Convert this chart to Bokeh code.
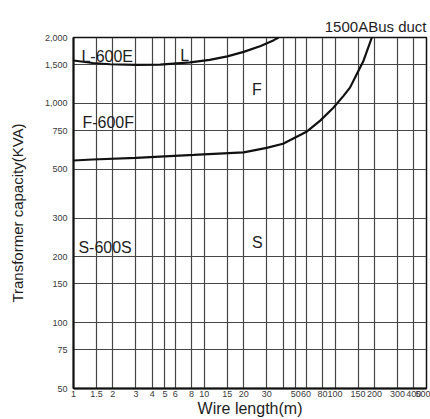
from bokeh.plotting import figure
from bokeh.models import FixedTicker, CustomJSTickFormatter, Label
from bokeh.embed import file_html
from bokeh.resources import INLINE

# ---- data ----
x_ticks = [1, 1.5, 2, 3, 4, 5, 6, 8, 10, 15, 20, 30, 40, 50, 60, 80, 100, 150, 200, 300, 400, 500]
x_tick_labels = ["1", "1.5", "2", "3", "4", "5", "6", "8", "10", "15", "20", "30", "", "50", "60",
                 "80", "100", "150", "200", "300", "400", "500"]
y_ticks = [50, 75, 100, 150, 200, 300, 500, 750, 1000, 1500, 2000]
y_tick_labels = ["50", "75", "100", "150", "200", "300", "500", "750", "1,000", "1,500", "2,000"]

# L-600E boundary curve (wire length m, capacity kVA)
L_len = [1, 1.4, 1.9, 3, 4.6, 7.8, 11, 15, 20, 27, 34, 37]
L_kva = [1570, 1530, 1510, 1500, 1505, 1540, 1580, 1640, 1720, 1830, 1945, 2000]

# F-600F boundary curve
F_len = [1, 1.4, 3, 8.3, 20, 30, 40, 61, 77, 97, 116, 130, 146, 164, 191]
F_kva = [549, 555, 565, 582, 598, 627, 655, 745, 835, 955, 1083, 1181, 1356, 1554, 2000]

# region labels: text, x, y
region_text = ["L-600E", "L", "F", "F-600F", "S-600S", "S"]
region_x = [1.15, 6.56, 23.2, 1.17, 1.09, 23.2]
region_y = [1636, 1650, 1157, 822, 221, 233]

title_text = "1500ABus duct"
x_title = "Wire length(m)"
y_title = "Transformer capacity(KVA)"

FONT = "Liberation Sans"
TXT = "#1e1e1e"

p = figure(width=430, height=419, x_axis_type="log", y_axis_type="log",
           x_range=(1, 500), y_range=(50, 2000),
           output_backend="svg", toolbar_location=None,
           min_border_left=73, min_border_right=4, min_border_top=37, min_border_bottom=29,
           x_axis_label=x_title, y_axis_label=y_title, title=title_text)

p.background_fill_color = "white"
p.border_fill_color = "white"
p.outline_line_color = "#111111"
p.outline_line_width = 1.5

p.title.align = "right"
p.title.text_font = FONT
p.title.text_font_size = "15px"
p.title.text_font_style = "normal"
p.title.text_color = TXT
p.title.standoff = 6

p.xaxis.ticker = FixedTicker(ticks=x_ticks)
p.yaxis.ticker = FixedTicker(ticks=y_ticks)
fmt_code = """
const i = vals.findIndex(t => Math.abs(t - tick) < 1e-6 * Math.max(1, t));
return i < 0 ? "" : labs[i];
"""
p.xaxis.formatter = CustomJSTickFormatter(args=dict(vals=x_ticks, labs=x_tick_labels), code=fmt_code)
p.yaxis.formatter = CustomJSTickFormatter(args=dict(vals=y_ticks, labs=y_tick_labels), code=fmt_code)

for ax in (p.xaxis, p.yaxis):
    ax.major_tick_in = 0
    ax.major_tick_out = 0
    ax.minor_tick_in = 0
    ax.minor_tick_out = 0
    ax.axis_line_color = "#111111"
    ax.axis_line_width = 2
    ax.major_label_text_font = FONT
    ax.major_label_text_font_size = "9px"
    ax.major_label_text_color = "#3a3a3a"
    ax.axis_label_text_font = FONT
    ax.axis_label_text_font_style = "normal"
    ax.axis_label_text_color = TXT
p.xaxis.major_label_standoff = 2
p.xaxis.axis_label_standoff = 0
p.xaxis.axis_label_text_font_size = "16px"
p.yaxis.major_label_standoff = 6
p.yaxis.axis_label_standoff = 16
p.yaxis.axis_label_text_font_size = "15px"

for g in (p.xgrid, p.ygrid):
    g.grid_line_color = "#454545"
    g.grid_line_width = 1.2
    g.grid_line_alpha = 1.0

p.line(L_len, L_kva, line_color="#111111", line_width=2.2)
p.line(F_len, F_kva, line_color="#111111", line_width=2.2)

for t, x, y in zip(region_text, region_x, region_y):
    p.add_layout(Label(x=x, y=y, text=t, text_font=FONT, text_font_size="16px",
                       text_color=TXT, text_align="left", text_baseline="alphabetic"))

open("out.html", "w").write(file_html(p, INLINE))
